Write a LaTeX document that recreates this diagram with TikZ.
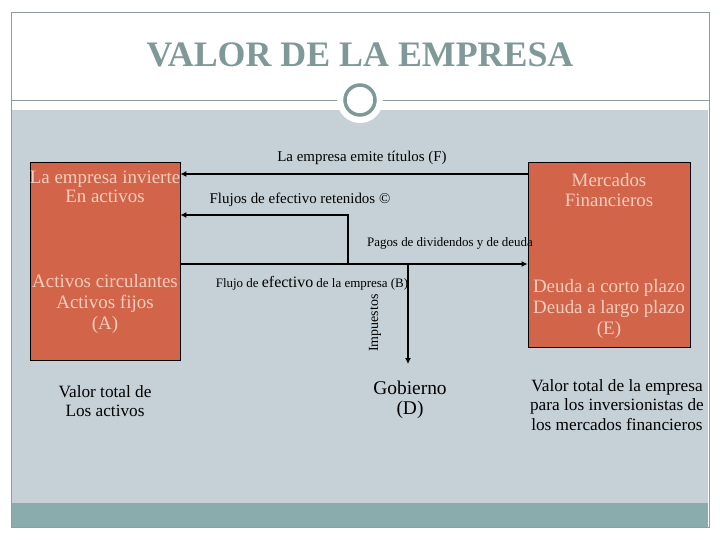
\documentclass[tikz,border=0pt]{standalone}
\usepackage{fontspec}
\setmainfont{Liberation Serif}
\usetikzlibrary{arrows.meta,positioning}
\definecolor{panel}{HTML}{C6D1D7}
\definecolor{banda}{HTML}{8AACAC}
\definecolor{ladrillo}{HTML}{D2644A}
\definecolor{rosa}{HTML}{F6CDBE}
\definecolor{titulogris}{HTML}{7F9999}
\definecolor{marco}{HTML}{8E9E9E}

\begin{document}
\begin{tikzpicture}[
    x=1bp, y=-1bp,
    caja/.style={draw, fill=ladrillo, line width=0.8bp},
    cajatexto/.style={text=rosa, align=center, font=\fontsize{19}{21}\selectfont},
    etiqueta/.style={inner sep=1bp, font=\fontsize{15}{17}\selectfont},
    nota/.style={align=center, font=\fontsize{17.3}{19.5}\selectfont},
    arrow/.style={-{Latex[length=6bp,width=6bp]}, line width=1.6bp}
  ]
    \useasboundingbox (0,0) rectangle (720,540);

    % fondo de la diapositiva
    \draw[marco, fill=white] (11,12) rectangle (709,527);
    \fill[panel] (12,110) rectangle (708,503);
    \fill[banda] (12,503) rectangle (708,527);
    \draw[marco] (11,100) -- (709,100);
    \fill[white] (360,100) circle[radius=23];
    \draw[titulogris, line width=3.5bp] (360,100) circle[radius=15];
    \node[text=titulogris, font=\bfseries\fontsize{36}{40}\selectfont] (titulo) at (360,55) {VALOR DE LA EMPRESA};

    % cajas
    \node[caja, minimum width=150bp, minimum height=198bp] (activos) at (105,261) {};
    \node[caja, minimum width=162bp, minimum height=185bp] (mercados) at (609,254.5) {};
    \node[cajatexto, font=\fontsize{19}{19.5}\selectfont] (invierte) at (105,187) {La empresa invierte\\En activos};
    \node[cajatexto] (circulantes) at (105,304) {Activos circulantes\\Activos fijos\\(A)};
    \node[cajatexto] (financieros) at (609,190) {Mercados\\Financieros};
    \node[cajatexto] (deuda) at (609,309) {Deuda a corto plazo\\Deuda a largo plazo\\(E)};

    % textos sueltos
    \node[nota] (valoractivos) at (105,401) {Valor total de\\Los activos};
    \node[nota, font=\fontsize{19.5}{20}\selectfont] (gobierno) at (410,400) {Gobierno\\(D)};
    \node[nota] (valorempresa) at (617,405) {Valor total de la empresa\\para los inversionistas de\\los mercados financieros};

    % etiquetas de flujos
    \node[etiqueta] (titulos) at (362,158) {La empresa emite títulos (F)};
    \node[etiqueta] (retenidos) at (300,200) {Flujos de efectivo retenidos ©};
    \node[etiqueta, font=\fontsize{13}{15}\selectfont] (pagos) at (450,243) {Pagos de dividendos y de deuda};
    \node[etiqueta, font=\fontsize{13}{15}\selectfont] (flujoB) at (312,283) {Flujo de {\fontsize{16}{18}\selectfont efectivo} de la empresa (B)};
    \node[etiqueta, rotate=90, font=\fontsize{14}{16}\selectfont] (impuestos) at (375,323) {Impuestos};

    \coordinate (filaF) at (0,174);
    \coordinate (filaC) at (0,215);
    \coordinate (filaB) at (0,264);
    \coordinate (retorno) at (348,264);
    \coordinate (impuesto) at (408,264);
    \coordinate (fisco) at (408,364);

    \draw[arrow] (mercados.west |- filaF) -- (activos.east |- filaF);
    \draw[arrow] (retorno) -- (retorno |- filaC) -- (activos.east |- filaC);
    \draw[arrow] (activos.east |- filaB) -- (mercados.west |- filaB);
    \draw[arrow] (impuesto) -- (fisco);
  \end{tikzpicture}
\end{document}
